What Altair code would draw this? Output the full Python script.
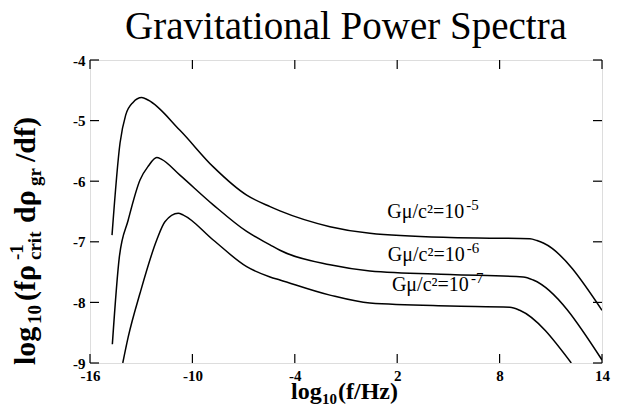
import altair as alt
import pandas as pd

# ---- data ----
x_ticks = [-16, -10, -4, 2, 8, 14]
y_ticks = [-4, -5, -6, -7, -8, -9]

x_e5 = [-14.71, -14.24, -13.91, -13.48, -12.97, -12.60, -10.73, -8.79, -6.82, -5.45, -4.87,
        -1.94, 0.40, 5.09, 9.78, 10.19, 10.56, 14.0]
y_e5 = [-6.89, -5.37, -4.91, -4.70, -4.62, -4.66, -5.16, -5.76, -6.23, -6.42, -6.49,
        -6.75, -6.86, -6.93, -6.95, -6.98, -7.02, -8.13]

x_e6 = [-14.69, -14.28, -13.76, -13.07, -12.58, -12.09, -11.80, -10.73, -8.78, -6.82, -5.45,
        -4.87, -1.94, 0.40, 5.09, 9.38, 9.97, 14.0]
y_e6 = [-8.69, -7.25, -6.64, -5.98, -5.75, -5.61, -5.64, -5.90, -6.39, -6.83, -7.05,
        -7.14, -7.38, -7.48, -7.54, -7.58, -7.63, -8.95]

x_e7 = [-14.08, -13.76, -13.07, -12.09, -11.61, -10.83, -10.53, -8.78, -6.82, -5.45, -4.87,
        -1.94, 0.40, 5.09, 8.60, 9.18, 12.2]
y_e7 = [-9.0, -8.57, -7.85, -6.97, -6.67, -6.53, -6.56, -6.97, -7.41, -7.58, -7.63,
        -7.88, -8.01, -8.06, -8.08, -8.13, -9.0]

series_names = ["1e-5", "1e-6", "1e-7"]
label_base = ["Gμ/c²=10", "Gμ/c²=10", "Gμ/c²=10"]
label_exp = ["-5", "-6", "-7"]
label_x = [1.42, 1.45, 1.69]
label_y = [-6.60, -7.31, -7.82]

title_text = "Gravitational Power Spectra"
y_title_parts = ["log", "10", "(fρ", "-1", "crit", "dρ", "gr", "/df)"]
x_title_parts = ["log", "10", "(f/Hz)"]

# ---- layout ----
W, H = 512, 303
FONT = "Liberation Serif"
xs = alt.Scale(domain=[-16, 14], nice=False, zero=False)
ys = alt.Scale(domain=[-9, -4], nice=False, zero=False)

rows = []
for name, xv, yv in zip(series_names, [x_e5, x_e6, x_e7], [y_e5, y_e6, y_e7]):
    for i, (a, b) in enumerate(zip(xv, yv)):
        rows.append({"series": name, "i": i, "x": a, "y": b})
df = pd.DataFrame(rows)

axis_common = dict(ticks=False, domain=False, grid=False, title=None, labelFont=FONT,
                   labelFontSize=15, labelFontWeight="bold", labelColor="black",
                   labelFlush=False, labelOverlap=False, labelExpr="'' + datum.value")

lines = alt.Chart(df).mark_line(color="black", strokeWidth=1.5, clip=True,
                                interpolate="monotone").encode(
    x=alt.X("x:Q", scale=xs, axis=alt.Axis(values=x_ticks, labelPadding=5, **axis_common)),
    y=alt.Y("y:Q", scale=ys, axis=alt.Axis(values=y_ticks, labelPadding=5, **axis_common)),
    detail="series:N",
    order="i:Q",
)

xt = pd.DataFrame({"t": x_ticks})
yt = pd.DataFrame({"t": y_ticks})
TL = 9
tick_style = dict(color="black", strokeWidth=1.2)
bottom_ticks = alt.Chart(xt).mark_rule(**tick_style).encode(
    x=alt.X("t:Q", scale=xs), y=alt.value(H), y2=alt.value(H - TL))
top_ticks = alt.Chart(xt).mark_rule(**tick_style).encode(
    x=alt.X("t:Q", scale=xs), y=alt.value(0), y2=alt.value(TL))
left_ticks = alt.Chart(yt).mark_rule(**tick_style).encode(
    y=alt.Y("t:Q", scale=ys), x=alt.value(0), x2=alt.value(TL))
right_ticks = alt.Chart(yt).mark_rule(**tick_style).encode(
    y=alt.Y("t:Q", scale=ys), x=alt.value(W), x2=alt.value(W - TL))

lab = pd.DataFrame({"x": label_x, "y": label_y, "base": label_base, "exp": label_exp})
labels = alt.Chart(lab).mark_text(font=FONT, fontSize=20, align="left", baseline="alphabetic",
                                  color="black").encode(
    x=alt.X("x:Q", scale=xs), y=alt.Y("y:Q", scale=ys), text="base:N")
label_sup = alt.Chart(lab).mark_text(font=FONT, fontSize=15, align="left", baseline="alphabetic",
                                     color="black", dx=79, dy=-8).encode(
    x=alt.X("x:Q", scale=xs), y=alt.Y("y:Q", scale=ys), text="exp:N")

# chart title as a text mark
title = alt.Chart(pd.DataFrame({"t": [title_text]})).mark_text(
    font=FONT, fontSize=39, align="center", baseline="alphabetic", color="black").encode(
    x=alt.value(W / 2), y=alt.value(-21), text="t:N")

# y-axis title built from pieces (rotated), offsets along the text direction
y_styles = [  # (font size, dx, dy)
    (30, 0, 0), (19, 41, 6), (30, 64, 0), (19, 105, -12), (19, 105, 6),
    (30, 142, 0), (19, 179, 6), (30, 203, 0)]
y_title_layers = []
for part, (fs, dx, dy) in zip(y_title_parts, y_styles):
    y_title_layers.append(
        alt.Chart(pd.DataFrame({"t": [part]})).mark_text(
            font=FONT, fontSize=fs, fontWeight="bold", angle=270, align="left",
            baseline="alphabetic", color="black", dx=dx, dy=dy).encode(
            x=alt.value(-55), y=alt.value(305), text="t:N"))

x_styles = [(24, 0, 0), (15, 31, 5), (24, 47, 0)]
x_title_layers = []
for part, (fs, dx, dy) in zip(x_title_parts, x_styles):
    x_title_layers.append(
        alt.Chart(pd.DataFrame({"t": [part]})).mark_text(
            font=FONT, fontSize=fs, fontWeight="bold", align="left",
            baseline="alphabetic", color="black", dx=dx, dy=dy).encode(
            x=alt.value(201), y=alt.value(339), text="t:N"))

chart = alt.layer(
    lines, bottom_ticks, top_ticks, left_ticks, right_ticks, labels, label_sup, title,
    *y_title_layers, *x_title_layers,
).properties(
    width=W, height=H,
    autosize="none",
    padding={"left": 82, "top": 52, "right": 12, "bottom": 42},
).configure_view(stroke="black", strokeWidth=1.5).configure(background="white")

chart.save("out.html", embed_options={"renderer": "svg", "actions": False})
